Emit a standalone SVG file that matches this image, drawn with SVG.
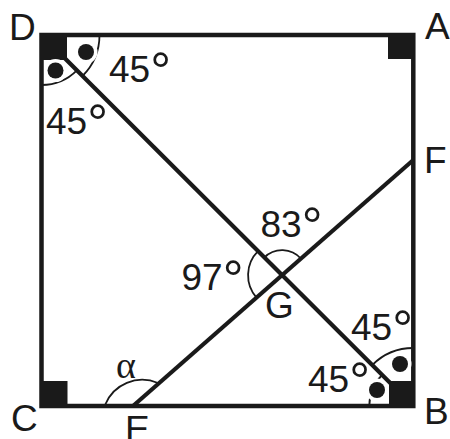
<svg xmlns="http://www.w3.org/2000/svg" width="450" height="439" viewBox="0 0 450 439">
<style>
.lbl{font-family:"Liberation Sans",Arial,sans-serif;font-size:37px;fill:#1a1a1a}
.deg{font-size:52px}
.greek{font-family:"Liberation Serif","Times New Roman",serif;font-size:38px;fill:#1a1a1a}
.edge{fill:none;stroke:#1a1a1a;stroke-width:4.5;stroke-linecap:square}
.line{fill:none;stroke:#1a1a1a;stroke-width:4.2}
.arc{fill:none;stroke:#1a1a1a;stroke-width:1.8}
.corner{fill:#1a1a1a}
.dot{fill:#1a1a1a;stroke:#fff;stroke-width:7;paint-order:stroke}
</style>
<rect width="450" height="439" fill="#fff"/>
<g id="square">
<rect class="edge" x="41.5" y="35" width="371.8" height="371"/>
</g>
<g id="corner-marks">
<rect class="corner" x="41.5" y="35" width="25.5" height="25"/>
<rect class="corner" x="388" y="35" width="25.3" height="24"/>
<rect class="corner" x="41.5" y="381" width="26" height="25"/>
<rect class="corner" x="389" y="381" width="24.3" height="25"/>
</g>
<g id="connectors">
<line class="line" x1="41.5" y1="35" x2="413.3" y2="406"/>
<line class="line" x1="133" y1="406" x2="413.3" y2="160"/>
</g>
<g id="angle-arcs">
<path class="arc" d="M99.5,35 A58,58 0 0 1 82.5,76"/>
<path class="arc" d="M76.9,70.4 A50,50 0 0 1 41.5,85"/>
<path class="arc" d="M369.3,406 A44,44 0 0 1 382.2,374.9"/>
<path class="arc" d="M372.3,365 A58,58 0 0 1 413.3,348"/>
<path class="arc" d="M258,251.2 A34,34 0 0 0 256.5,297.6"/>
<path class="arc" d="M264.4,257.5 A25,25 0 0 1 300.9,258.7"/>
<path class="arc" d="M105,405 A40,40 0 0 1 158,383"/>
</g>
<g id="dots">
<circle class="dot" cx="55.5" cy="70.5" r="8"/>
<circle class="dot" cx="86" cy="52" r="8"/>
<circle class="dot" cx="400" cy="364" r="8"/>
<circle class="dot" cx="377" cy="390" r="8"/>
</g>
<g id="labels">
<text class="lbl" x="9" y="40">D</text>
<text class="lbl" x="425" y="39">A</text>
<text class="lbl" x="424" y="173">F</text>
<text class="lbl" x="424" y="424">B</text>
<text class="lbl" x="11" y="431">C</text>
<text class="lbl" x="125" y="442">E</text>
<text class="lbl" x="265" y="318">G</text>
<text class="lbl" x="260.5" y="237">83<tspan class="deg" dy="7">°</tspan></text>
<text class="lbl" x="181.5" y="290">97<tspan class="deg" dy="7">°</tspan></text>
<text class="lbl" x="109" y="82">45<tspan class="deg" dy="7">°</tspan></text>
<text class="lbl" x="46" y="134">45<tspan class="deg" dy="7">°</tspan></text>
<text class="lbl" x="351" y="340">45<tspan class="deg" dy="7">°</tspan></text>
<text class="lbl" x="308" y="392">45<tspan class="deg" dy="7">°</tspan></text>
<text class="greek" x="116" y="378">α</text>
</g>
</svg>
